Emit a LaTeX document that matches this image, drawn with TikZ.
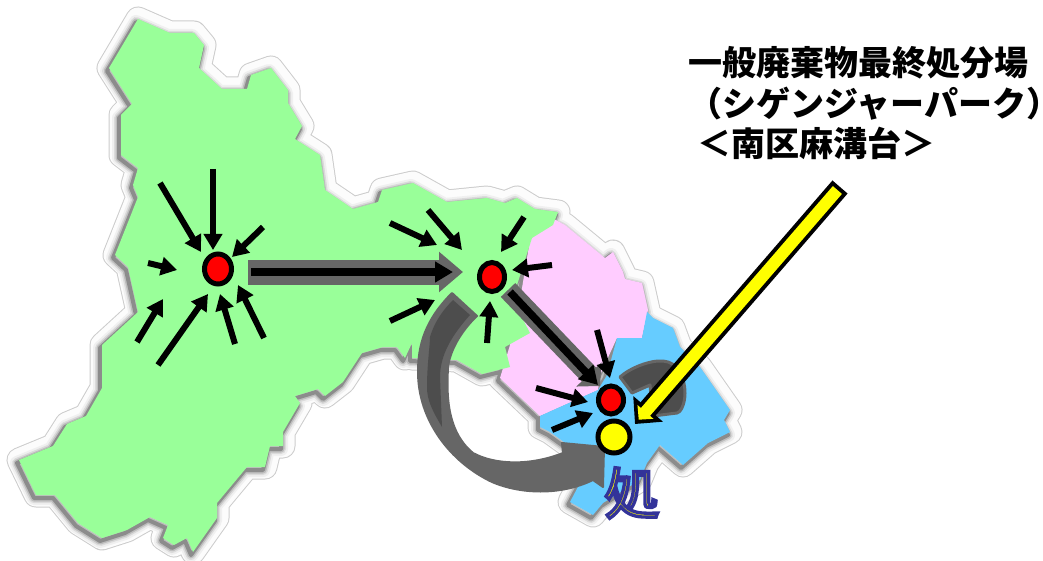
\documentclass[tikz,border=0pt]{standalone}
\usepackage{fontspec}
\newfontfamily\cjk{Noto Sans CJK JP}
\usetikzlibrary{arrows.meta}
\usetikzlibrary{shapes}
\usetikzlibrary{backgrounds}
\usetikzlibrary{positioning}

\definecolor{areagreen}{HTML}{99FF99}
\definecolor{areapink}{HTML}{FFCCFF}
\definecolor{areablue}{HTML}{66CCFF}
\definecolor{flowgrey}{HTML}{666666}
\definecolor{flowdark}{HTML}{4D4D4D}
\definecolor{markyellow}{HTML}{FFFF00}

\def\greenarea{(138,19) -- (170,33) -- (194,33) -- (204,45) -- (199,68) -- (222,89) -- (247,89) -- (251,75) -- (271,68) -- (288,90) -- (288,103) -- (302,126) -- (295,139) -- (320,155) -- (325,190) -- (353,209) -- (378,202) -- (382,190) -- (413,183) -- (447,202) -- (487,198) -- (505,203) -- (517,198) -- (535,209) -- (558,212) -- (553,225) -- (532,238) -- (517,285) -- (518,310) -- (530,333) -- (505,347) -- (510,367) -- (482,374) -- (457,360) -- (412,358) -- (412,343) -- (405,358) -- (397,347) -- (383,347) -- (362,353) -- (343,382) -- (325,396) -- (318,389) -- (295,396) -- (300,403) -- (283,432) -- (283,446) -- (270,446) -- (265,467) -- (247,467) -- (217,503) -- (217,518) -- (193,552) -- (187,538) -- (174,545) -- (163,538) -- (168,525) -- (150,517) -- (127,530) -- (102,538) -- (78,523) -- (55,495) -- (36,495) -- (19,460) -- (53,446) -- (67,424) -- (86,416) -- (102,388) -- (102,345) -- (138,312) -- (128,267) -- (115,255) -- (138,197) -- (133,185) -- (138,168) -- (121,155) -- (121,115) -- (132,104) -- (109,68) -- cycle}
\def\pinkarea{(535,209) -- (565,225) -- (605,258) -- (613,252) -- (623,272) -- (625,279) -- (642,283) -- (648,310) -- (642,338) -- (617,338) -- (600,375) -- (598,390) -- (540,416) -- (500,378) -- (510,345) -- (520,300) -- (530,240) -- cycle}
\def\bluearea{(647,312) -- (653,318) -- (673,328) -- (680,347) -- (700,367) -- (730,410) -- (724,420) -- (730,432) -- (708,443) -- (683,465) -- (660,445) -- (647,463) -- (640,480) -- (603,503) -- (593,515) -- (570,502) -- (580,483) -- (575,450) -- (550,432) -- (540,427) -- (540,416) -- (598,390) -- (607,375) -- (617,338) -- (642,338) -- cycle}

\begin{document}
\begin{tikzpicture}[
    x=1pt,y=-1pt,
    font=\cjk\bfseries
]
\tikzset{
    halostroke/.style = {line join=round},
    hubnode/.style = {ellipse, draw=black, line width=5pt, fill=red, inner sep=0pt},
    plantnode/.style = {circle, draw=black, line width=5pt, fill=markyellow, inner sep=0pt, minimum size=32pt},
    inflow/.style = {black, line width=6pt, -{Triangle[length=16pt,width=18pt]}},
    trunkgrey/.style = {flowgrey, line width=25pt, -{Triangle[length=24pt,width=39pt]}},
    trunkgreytwo/.style = {flowgrey, line width=20pt, -{Triangle[length=16pt,width=34pt]}},
    trunkblack/.style = {black, line width=7.5pt, -{Triangle[length=18pt,width=20pt]}},
    pointerout/.style = {black, line width=20pt, -{Triangle[length=20pt,width=38pt]}},
    pointerin/.style = {markyellow, line width=12pt, -{Triangle[length=10.3pt,width=20.6pt]}}
}
\useasboundingbox (0,0) rectangle (1043,561);

\node[hubnode, minimum width=27pt, minimum height=30pt] at (218,269) (hubw) {};
\node[hubnode, minimum width=25pt, minimum height=29pt] at (492,277) (hubc) {};
\node[hubnode, minimum width=25pt, minimum height=28pt] at (611,400) (hubs) {};
\node[plantnode] at (614,437) (plant) {};

\begin{scope}[on background layer]
\foreach \wd/\col/\dx/\dy in {25/black!20/0/0,23/black!1/0/0,14/black!6/-2/3,10/black!14/-2/3,7/black!26/-2/3,4/black!45/-2/3}
    \draw[halostroke, line width=\wd pt, color=\col, shift={(\dx,\dy)}] \greenarea \pinkarea \bluearea;
\fill[areapink] \pinkarea;
\fill[areablue] \bluearea;
\fill[areagreen] \greenarea;

\fill[flowdark, draw=flowgrey, line width=3pt, line join=round] (620,377) .. controls (630,368) and (650,360) .. (663,361) .. controls (678,362) and (685,378) .. (685,393) .. controls (685,405) and (680,413) .. (677,413) -- (653,416) -- (650,385) -- (632,393) -- cycle;
\fill[flowgrey, draw=flowgrey, line width=2pt, line join=round] (452,293) .. controls (425,320) and (418,345) .. (418,372) .. controls (418,420) and (450,462) .. (492,482) .. controls (520,494) and (560,496) .. (593,480) -- (603,487) -- (604,447) -- (562,443) -- (563,453) .. controls (530,466) and (495,465) .. (473,453) .. controls (445,430) and (447,390) .. (448,367) .. controls (450,350) and (462,330) .. (477,316) -- cycle;
\fill[flowdark] (453,300) -- (470,315) .. controls (452,335) and (440,355) .. (440,377) -- (442,427) .. controls (432,410) and (427,400) .. (427,387) .. controls (427,365) and (430,345) .. (430,337) .. controls (435,320) and (445,308) .. (453,300) -- cycle;

\draw[trunkgrey] ([shift={(30,3)}]hubw.center) -- ([shift={(-29,-5)}]hubc.center);
\draw[trunkblack] ([shift={(33,3)}]hubw.center) -- ([shift={(-39,-5)}]hubc.center);
\draw[trunkgreytwo] ([shift={(16,13)}]hubc.center) -- ([shift={(-11,-14)}]hubs.center);
\draw[trunkblack] ([shift={(18,15)}]hubc.center) -- ([shift={(-13,-15)}]hubs.center);
\end{scope}

\foreach \sx/\sy/\tx/\ty in {-58/-86/-17/-17,-5/-100/-5/-19,45/-42/14/-12,-70/-6/-41/1,-81/73/-55/30,-60/96/-10/25,17/75/2/25,46/69/20/16}
    \draw[inflow] ([shift={(\sx,\sy)}]hubw.center) -- ([shift={(\tx,\ty)}]hubw.center);
\foreach \sx/\sy/\tx/\ty in {-102/-54/-55/-32,-64/-67/-30/-27,32/-60/9/-25,60/-12/20/-7,-102/44/-57/23,-5/66/-2/24}
    \draw[inflow] ([shift={(\sx,\sy)}]hubc.center) -- ([shift={(\tx,\ty)}]hubc.center);
\foreach \sx/\sy/\tx/\ty in {-14/-70/-1/-22,-75/-12/-23/2,-59/30/-18/13}
    \draw[inflow] ([shift={(\sx,\sy)}]hubs.center) -- ([shift={(\tx,\ty)}]hubs.center);

\coordinate (pointertail) at (840,187);
\draw[pointerout] (pointertail) -- ([shift={(21,-13)}]plant.center);
\draw[pointerin, shorten <=4pt, shorten >=5.7pt] (pointertail) -- ([shift={(21,-13)}]plant.center);

\node[anchor=north west, align=left, inner sep=0pt, font=\cjk\bfseries\fontsize{34}{40.5}\selectfont] at (688,46.5) (sitelabel) {一般廃棄物最終処分場\\（シゲンジャーパーク\rlap{）}\\\hspace*{9pt}＜南区麻溝台＞};
\node[inner sep=0pt, font=\cjk\fontsize{55}{55}\selectfont] at (632,493) (shomark) {\special{pdf:code q 0.2 0.2 0.6 RG 1 1 0 rg 2 Tr 3.3 w}処\special{pdf:code 0 Tr Q}};
\end{tikzpicture}
\end{document}
